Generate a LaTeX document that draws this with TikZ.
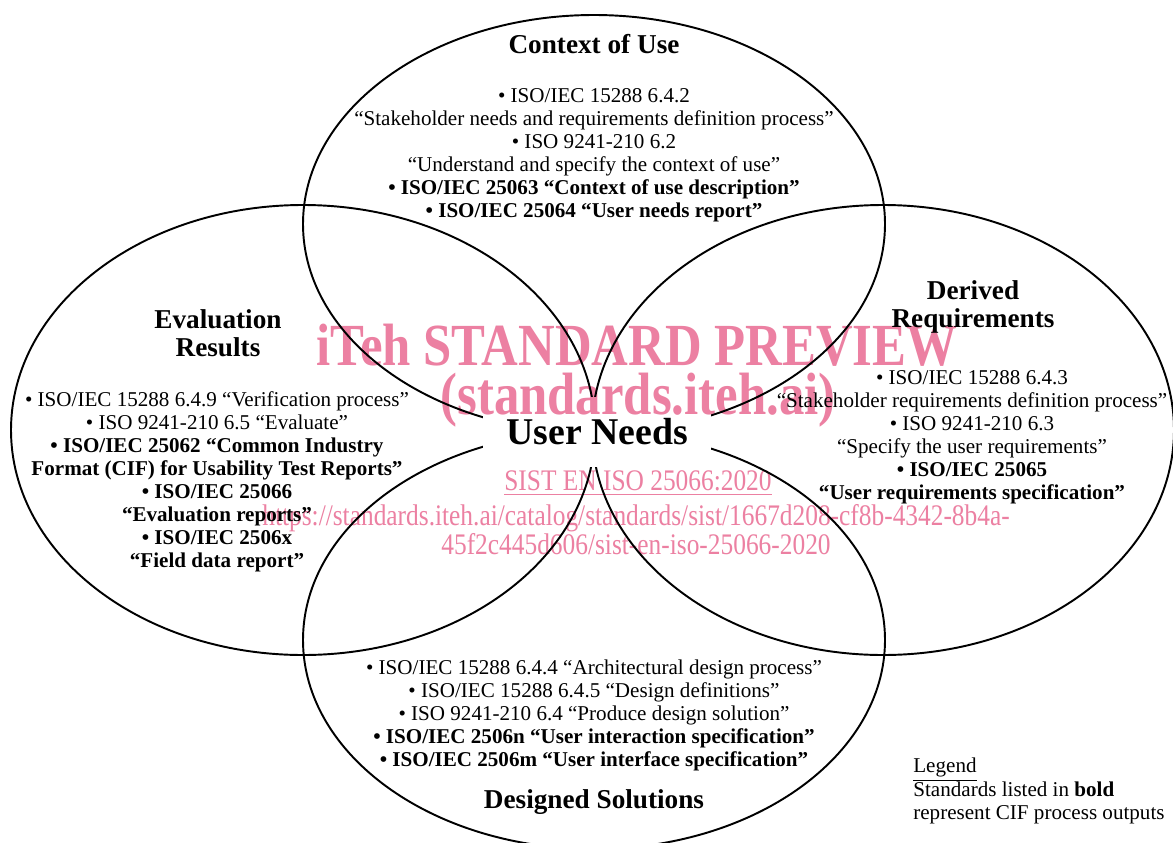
\documentclass[tikz,border=0pt]{standalone}
\usepackage{fontspec}
\setmainfont{Liberation Serif}
\newfontfamily\wmfont[FakeStretch=0.85]{Liberation Serif}
\definecolor{wmpink}{RGB}{236,128,162}

\begin{document}
\begin{tikzpicture}[x=0.02cm,y=-0.02cm,
    ring/.style={line width=1.1pt},
    title/.style={font=\fontsize{15.5}{16}\selectfont\bfseries,align=center,inner sep=0pt},
    entries/.style={font=\fontsize{12}{13.1}\selectfont,align=center,inner sep=0pt},
    wmbig/.style={text=wmpink,font=\wmfont\bfseries\fontsize{34}{31}\selectfont,align=center,inner sep=0pt},
    wmsmall/.style={text=wmpink,font=\wmfont\fontsize{17}{15}\selectfont,align=center,inner sep=0pt}]
  \useasboundingbox[fill=white] (0,0) rectangle (1173,842);
  \draw[ring] (594,224) ellipse (291 and 209);
  \draw[ring] (303,430) ellipse (292 and 225);
  \draw[ring] (883,430) ellipse (291 and 225);
  \draw[ring] (594,640) ellipse (291 and 209);
  \node[fill=white,minimum width=4.56cm,minimum height=1.4cm,inner sep=0pt,
    font=\fontsize{21.5}{24}\selectfont\bfseries] (needs) at (597,432) {User Needs};

  \node[title] (ctxtitle) at (594,44) {Context of Use};
  \node[entries] (ctxlist) at (594,155) {• ISO/IEC 15288 6.4.2\\
    “Stakeholder needs and requirements definition process”\\
    • ISO 9241-210 6.2\\
    “Understand and specify the context of use”\\
    \textbf{• ISO/IEC 25063 “Context of use description”}\\
    \textbf{• ISO/IEC 25064 “User needs report”}};

  \node[title] (evaltitle) at (218,333) {Evaluation\\Results};
  \node[entries] (evallist) at (217,482) {• ISO/IEC 15288 6.4.9 “Verification process”\\
    • ISO 9241-210 6.5 “Evaluate”\\
    \textbf{• ISO/IEC 25062 “Common Industry}\\
    \textbf{Format (CIF) for Usability Test Reports”}\\
    \textbf{• ISO/IEC 25066}\\
    \textbf{“Evaluation reports”}\\
    \textbf{• ISO/IEC 2506x}\\
    \textbf{“Field data report”}};

  \node[title] (reqtitle) at (973,307) {Derived\\Requirements};
  \node[entries] (reqlist) at (972,437) {• ISO/IEC 15288 6.4.3\\
    “Stakeholder requirements definition process”\\
    • ISO 9241-210 6.3\\
    “Specify the user requirements”\\
    \textbf{• ISO/IEC 25065}\\
    \textbf{“User requirements specification”}};

  \node[entries] (sollist) at (594,715) {• ISO/IEC 15288 6.4.4 “Architectural design process”\\
    • ISO/IEC 15288 6.4.5 “Design definitions”\\
    • ISO 9241-210 6.4 “Produce design solution”\\
    \textbf{• ISO/IEC 2506n “User interaction specification”}\\
    \textbf{• ISO/IEC 2506m “User interface specification”}};
  \node[title] (soltitle) at (594,802) {Designed Solutions};

  \node[entries,align=left,anchor=north west] (legend) at (913,758) {\underline{Legend}\\
    Standards listed in \textbf{bold}\\
    represent CIF process outputs};

  \begin{scope}[blend mode=multiply]
    \node[wmbig] (wmhead) at (637,345) {iTeh STANDARD PREVIEW};
    \node[wmbig] (wmsite) at (638,400) {(standards.iteh.ai)};
    \node[wmsmall] (wmcode) at (638,483) {\underline{SIST EN ISO 25066:2020}};
    \node[wmsmall] (wmlink) at (636,530) {https://standards.iteh.ai/catalog/standards/sist/1667d208-cf8b-4342-8b4a-\\
      45f2c445d606/sist-en-iso-25066-2020};
  \end{scope}
\end{tikzpicture}
\end{document}
